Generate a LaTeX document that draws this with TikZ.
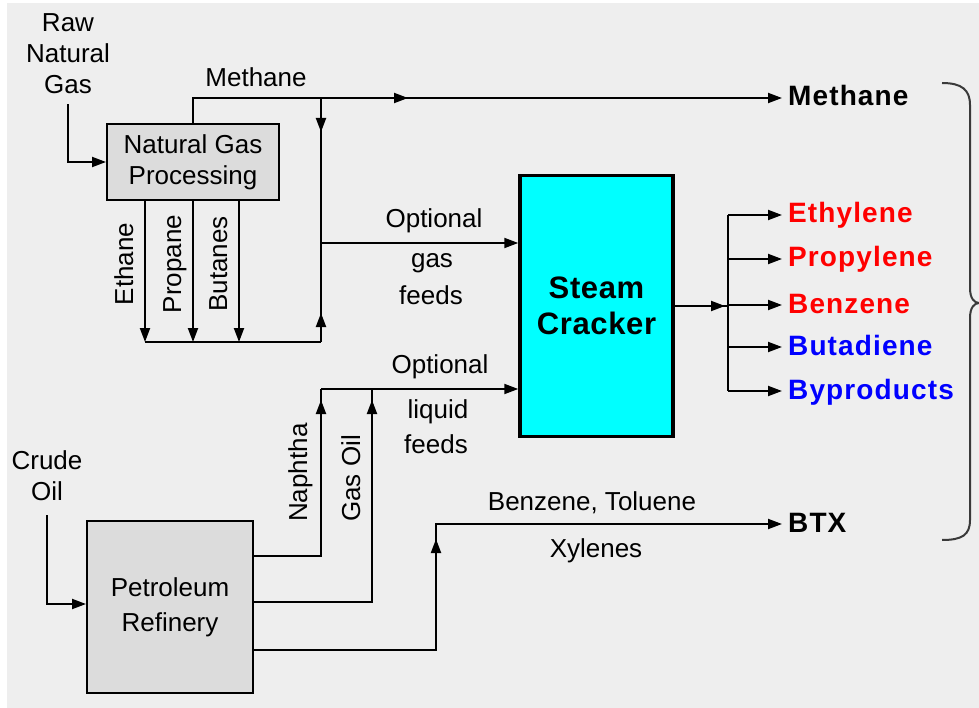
\documentclass[tikz,border=0pt]{standalone}
\usepackage{fontspec}
\setmainfont{Liberation Sans}
\usepackage{xcolor}
\usetikzlibrary{arrows.meta, positioning, decorations.markings}

\definecolor{bggray}{HTML}{EEEEEE}
\definecolor{boxgray}{HTML}{DCDCDC}
\definecolor{crackcyan}{HTML}{00FFFF}
\definecolor{bracegray}{HTML}{3A3A3A}

\begin{document}
\begin{tikzpicture}[
      x=1pt, y=-1pt,
      box/.style={rectangle, draw=black, fill=boxgray, line width=2pt,
                  align=center, font=\fontsize{26}{31}\selectfont},
      txt/.style={align=center, inner sep=0pt, font=\fontsize{26}{31}\selectfont},
      product/.style={anchor=west, inner sep=6pt, text height=20pt, text depth=4pt,
                      font=\bfseries\fontsize{28}{32}\selectfont\addfontfeature{LetterSpace=4}},
      pipe/.style={line width=2pt, black},
      arrow/.style={pipe, -{Triangle[length=14pt, width=10pt]}},
      midarrow/.style={postaction={decorate}, decoration={markings,
                  mark=at position #1 with {\arrow{Triangle[length=14pt, width=10pt]}}}}
    ]
    % Background and frame
    \useasboundingbox (0,0) rectangle (979,708);
    \fill[white] (0,0) rectangle (979,708);
    \fill[bggray] (7,3) rectangle (979,708);

    % Feed stocks and process units
    \node[txt] (rawgas) at (68,54) {Raw\\Natural\\Gas};
    \coordinate[below=10pt of rawgas] (rawout);
    \node[box, minimum width=172pt, minimum height=76pt] (ngp) at (193,162) {Natural Gas\\Processing};
    \node[txt] (crude) at (47,476) {Crude\\Oil};
    \coordinate[below=14pt of crude] (crudeout);
    \node[box, minimum width=166pt, minimum height=172pt, font=\fontsize{26}{35}\selectfont]
      (refinery) at (170,607) {Petroleum\\Refinery};
    \node[box, fill=crackcyan, line width=3.5pt, minimum width=153pt, minimum height=261pt,
          font=\bfseries\fontsize{31}{36}\selectfont\addfontfeature{LetterSpace=2}]
      (cracker) at (596.5,306) {Steam\\Cracker};

    % Products
    \node[product] (methane) at (782,98) {Methane};
    \foreach \name/\prod/\yy/\col in {ethylene/Ethylene/215/red, propylene/Propylene/259/red,
        benzene/Benzene/305/red, butadiene/Butadiene/347/blue, byproducts/Byproducts/391/blue}
      \node[product, text=\col] (\name) at (782,\yy) {\prod};
    \node[product] (btx) at (782,524) {BTX};

    % Junction points
    \coordinate (gtop) at (321,98);
    \coordinate (gmid) at (321,243);
    \coordinate (gbot) at (321,342);
    \coordinate (gleft) at (145,342);
    \coordinate (lmid) at (321,389);
    \coordinate (goil) at (372,389);
    \coordinate (btxup) at (436,524);
    \coordinate (split) at (728,306);

    % Natural gas side
    \draw[arrow] (rawout) |- (ngp.west);
    \draw[arrow, midarrow=240pt] (ngp.north) |- (methane.west);
    \node[txt, anchor=base] (methlbl) at (256,87) {Methane};
    \foreach \xx/\gas in {145/Ethane, 193/Propane, 239/Butanes} {
      \draw[arrow] (ngp.south -| \xx,0) -- (gbot -| \xx,0);
      \node[txt, rotate=90, anchor=base] (lbl\gas) at (\xx-12,264) {\gas};
    }
    \draw[pipe] (gleft) -- (gbot);
    \draw[pipe, midarrow=34pt] (gtop) -- (gmid);
    \draw[pipe, midarrow=29pt] (gbot) -- (gmid);
    \draw[arrow] (gmid) -- (gmid -| cracker.west);
    \node[txt, anchor=base] (gasopt) at (434,228) {Optional};
    \node[txt, anchor=base] (gasgas) at (432,268) {gas};
    \node[txt, anchor=base] (gasfeeds) at (431,305) {feeds};

    % Refinery side
    \draw[arrow] (crudeout) |- ([yshift=3pt]refinery.west);
    \draw[pipe, midarrow=-11pt] ([yshift=51pt]refinery.east) -| (lmid);
    \draw[pipe, midarrow=-11pt] ([yshift=5pt]refinery.east) -| (goil);
    \draw[arrow] (lmid) -- (lmid -| cracker.west);
    \node[txt, rotate=90, anchor=base west] (naphtha) at (307,522) {Naphtha};
    \node[txt, rotate=90, anchor=base west] (gasoil) at (360,522) {Gas Oil};
    \node[txt, anchor=base] (liqopt) at (440,373) {Optional};
    \node[txt, anchor=base] (liqliq) at (438,418) {liquid};
    \node[txt, anchor=base] (liqfeeds) at (436,453) {feeds};
    \draw[arrow, midarrow=293pt] ([yshift=-43pt]refinery.east) -| (btxup) -- (btx.west);
    \node[txt, anchor=base] (btxtop) at (592,510) {Benzene, Toluene};
    \node[txt, anchor=base] (btxbot) at (596,557) {Xylenes};

    % Cracker outputs
    \draw[pipe, midarrow=-3pt] (cracker.east) -- (split);
    \draw[pipe] (split |- ethylene.west) -- (split |- byproducts.west);
    \foreach \name in {ethylene, propylene, benzene, butadiene, byproducts}
      \draw[arrow] (split |- \name.west) -- (\name.west);

    % Brace
    \draw[bracegray, line width=2pt] (942,83) .. controls (962,83) and (970,90) .. (970,105)
      -- (970,288) .. controls (970,298) and (974,303) .. (979,303)
      .. controls (974,303) and (970,308) .. (970,318) -- (970,520)
      .. controls (970,535) and (962,540) .. (942,540);
\end{tikzpicture}
\end{document}
